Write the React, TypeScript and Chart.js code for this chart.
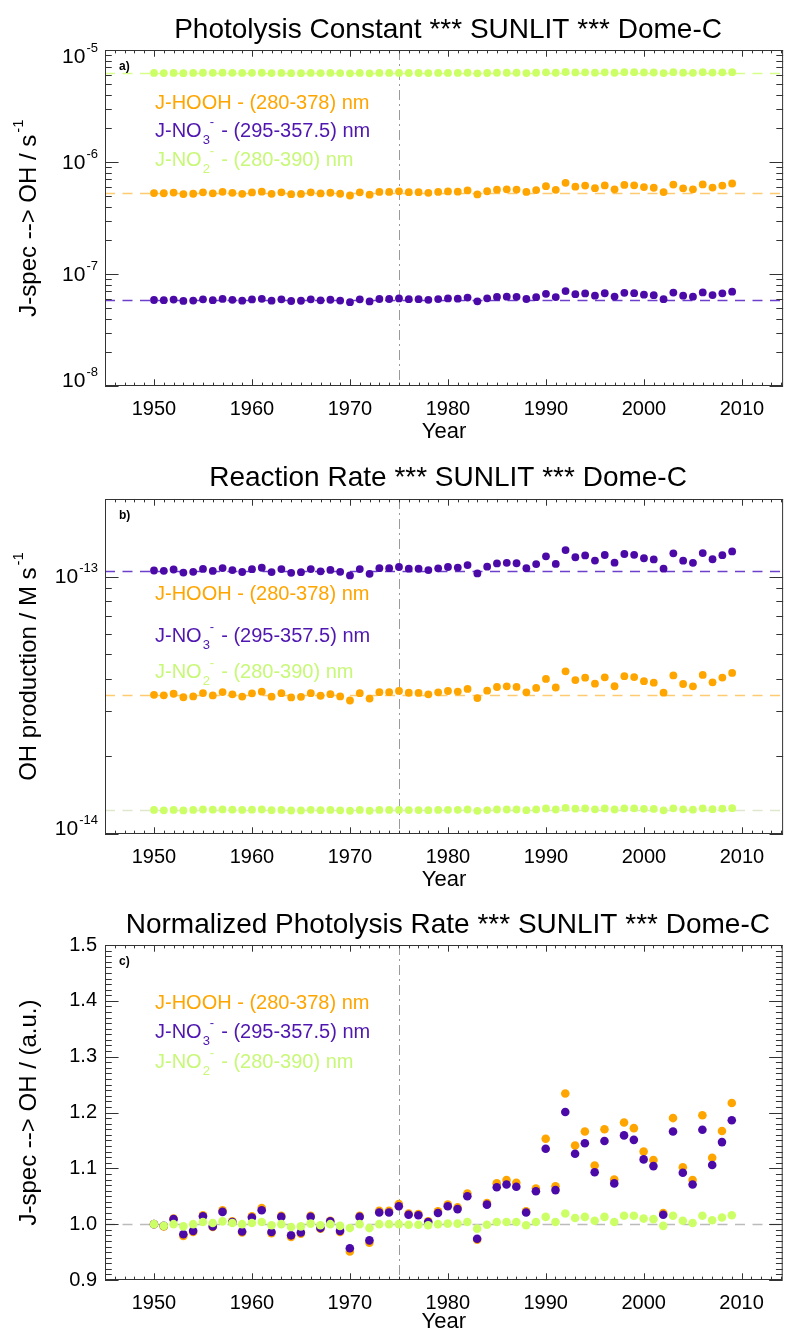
import React, { useEffect, useRef } from "react";
import { Chart, registerables } from "chart.js";

Chart.register(...registerables);

// ---------------- DATA ----------------
const YEARS = [
  1950, 1951, 1952, 1953, 1954, 1955, 1956, 1957, 1958, 1959,
  1960, 1961, 1962, 1963, 1964, 1965, 1966, 1967, 1968, 1969,
  1970, 1971, 1972, 1973, 1974, 1975, 1976, 1977, 1978, 1979,
  1980, 1981, 1982, 1983, 1984, 1985, 1986, 1987, 1988, 1989,
  1990, 1991, 1992, 1993, 1994, 1995, 1996, 1997, 1998, 1999,
  2000, 2001, 2002, 2003, 2004, 2005, 2006, 2007, 2008, 2009,
];

// normalized photolysis rate (J / J_1950)
const NORM_HOOH = [
  1.000, 0.996, 1.010, 0.979, 0.986, 1.016, 0.995, 1.025, 1.005, 0.985,
  1.014, 1.029, 0.984, 1.015, 0.977, 0.983, 1.015, 0.992, 1.006, 0.986,
  0.951, 1.015, 0.967, 1.024, 1.024, 1.036, 1.019, 1.018, 1.005, 1.023,
  1.035, 1.030, 1.055, 0.972, 1.038, 1.073, 1.079, 1.074, 1.023, 1.064,
  1.153, 1.068, 1.234, 1.141, 1.166, 1.105, 1.170, 1.080, 1.182, 1.172,
  1.130, 1.115, 1.020, 1.190, 1.102, 1.079, 1.195, 1.119, 1.167, 1.217,
];
const NORM_NO3 = [
  1.000, 0.997, 1.009, 0.982, 0.988, 1.014, 0.996, 1.022, 1.004, 0.987,
  1.012, 1.025, 0.986, 1.013, 0.980, 0.985, 1.013, 0.993, 1.005, 0.988,
  0.957, 1.013, 0.971, 1.021, 1.021, 1.032, 1.017, 1.016, 1.004, 1.020,
  1.032, 1.027, 1.050, 0.974, 1.035, 1.066, 1.071, 1.067, 1.021, 1.059,
  1.135, 1.061, 1.201, 1.126, 1.145, 1.093, 1.149, 1.073, 1.159, 1.151,
  1.116, 1.104, 1.017, 1.166, 1.092, 1.071, 1.169, 1.106, 1.147, 1.186,
];
const NORM_NO2 = [
  1.000, 0.997, 1.000, 0.996, 1.000, 1.004, 1.002, 1.005, 1.002, 1.000,
  1.002, 1.004, 0.998, 1.000, 0.995, 0.996, 1.001, 0.998, 1.000, 0.997,
  0.993, 1.000, 0.993, 1.000, 1.000, 1.000, 0.999, 0.999, 0.998, 1.000,
  1.001, 1.001, 1.004, 0.992, 0.999, 1.004, 1.004, 1.004, 0.998, 1.004,
  1.013, 1.004, 1.019, 1.011, 1.013, 1.006, 1.013, 1.004, 1.015, 1.015,
  1.010, 1.009, 0.997, 1.015, 1.006, 1.002, 1.015, 1.007, 1.012, 1.016,
];

// 1950 reference levels (dashed lines)
const PHOTOLYSIS_BASE_HOOH = 5.28e-7;
const PHOTOLYSIS_BASE_NO3 = 5.86e-8;
const PHOTOLYSIS_BASE_NO2 = 6.24e-6;
const RATE_BASE_HOOH = 3.47e-14;
const RATE_BASE_NO3 = 1.055e-13;
const RATE_BASE_NO2 = 1.24e-14;
const NORM_BASE = 1.0;

const REFERENCE_YEAR = 1975;

const X_TICKS = [1950, 1960, 1970, 1980, 1990, 2000, 2010];
const X_TICK_LABELS = ["1950", "1960", "1970", "1980", "1990", "2000", "2010"];
const A_Y_TICKS = [1e-8, 1e-7, 1e-6, 1e-5];
const A_Y_EXPONENTS = ["-8", "-7", "-6", "-5"];
const B_Y_TICKS = [1e-14, 1e-13];
const B_Y_EXPONENTS = ["-14", "-13"];
const C_Y_TICKS = [0.9, 1.0, 1.1, 1.2, 1.3, 1.4, 1.5];
const C_Y_LABELS = ["0.9", "1.0", "1.1", "1.2", "1.3", "1.4", "1.5"];

const TITLES = [
  "Photolysis Constant *** SUNLIT *** Dome-C",
  "Reaction Rate *** SUNLIT *** Dome-C",
  "Normalized Photolysis Rate *** SUNLIT *** Dome-C",
];

// ---------------- STYLE ----------------
const FONT = '"Liberation Sans", Arial, Helvetica, sans-serif';
const ORANGE = "#ffa500";
const PURPLE = "#4b0aa8";
const GREEN = "#ccff66";
const PURPLE_TEXT = "#4f16b0";
const GREEN_TEXT = "#c8f878";
const AXIS = "#333333";

type Baseline = { y: number; color: string };
type Series = { values: number[]; base: number; color: string };
type Spec = {
  key: string;
  top: number;
  height: number;
  padTop: number;
  padBottom: number;
  title: string;
  titleY: number;
  yTitle: string;
  yTitleSup: string;
  log: boolean;
  yMin: number;
  yMax: number;
  yTicks: number[];
  yLabels: string[];
  series: Series[];
  baselines: Baseline[];
  legendY: number[];
  letter: string;
  radius: number;
  yearOffset: number;
};

const X_MIN = 1945;
const X_MAX = 2014.2;

function drawLegend(ctx: CanvasRenderingContext2D, x: number, ys: number[]) {
  const big = `20px ${FONT}`;
  const small = `13px ${FONT}`;
  ctx.textAlign = "left";
  ctx.textBaseline = "middle";
  ctx.fillStyle = ORANGE;
  ctx.font = big;
  ctx.fillText("J-HOOH - (280-378) nm", x, ys[0]);
  const chem = (y: number, color: string, sub: string, rest: string) => {
    ctx.fillStyle = color;
    ctx.font = big;
    ctx.fillText("J-NO", x, y);
    const w = ctx.measureText("J-NO").width;
    ctx.font = small;
    ctx.fillText(sub, x + w + 1, y + 9);
    ctx.fillText("-", x + w + 8, y - 9);
    ctx.font = big;
    ctx.fillText(rest, x + w + 14, y);
  };
  chem(ys[1], PURPLE_TEXT, "3", " - (295-357.5) nm");
  chem(ys[2], GREEN_TEXT, "2", " - (280-390) nm");
}

function makePlugin(spec: Spec) {
  return {
    id: "idl_" + spec.key,
    beforeDatasetsDraw(chart: any) {
      const ctx: CanvasRenderingContext2D = chart.ctx;
      const { left, right, top, bottom } = chart.chartArea;
      const xs = chart.scales.x;
      const ys = chart.scales.y;
      ctx.save();
      ctx.lineWidth = 1.5;
      ctx.setLineDash([10, 7.5]);
      for (const b of spec.baselines) {
        const py = Math.round(ys.getPixelForValue(b.y)) + 0.5;
        ctx.strokeStyle = b.color;
        ctx.beginPath();
        ctx.moveTo(left, py);
        ctx.lineTo(right, py);
        ctx.stroke();
      }
      const px = Math.round(xs.getPixelForValue(REFERENCE_YEAR)) + 0.5;
      ctx.lineWidth = 1;
      ctx.strokeStyle = "#9a9a9a";
      ctx.setLineDash([10, 4, 2, 4]);
      ctx.beginPath();
      ctx.moveTo(px, top);
      ctx.lineTo(px, bottom);
      ctx.stroke();
      ctx.restore();
    },
    afterDraw(chart: any) {
      const ctx: CanvasRenderingContext2D = chart.ctx;
      const { left, right, top, bottom } = chart.chartArea;
      const xs = chart.scales.x;
      const ys = chart.scales.y;
      const W = right - left;
      const H = bottom - top;
      ctx.save();
      ctx.setLineDash([]);
      ctx.strokeStyle = AXIS;
      ctx.lineWidth = 1;
      ctx.strokeRect(left + 0.5, top + 0.5, W - 1, H - 1);
      const xMajorLen = 0.02 * H;
      const xMinorLen = 0.01 * H;
      ctx.beginPath();
      for (let yr = Math.ceil(X_MIN); yr <= X_MAX; yr++) {
        const len = X_TICKS.includes(yr) ? xMajorLen : xMinorLen;
        const px = Math.round(xs.getPixelForValue(yr)) + 0.5;
        ctx.moveTo(px, bottom);
        ctx.lineTo(px, bottom - len);
        ctx.moveTo(px, top);
        ctx.lineTo(px, top + len);
      }
      ctx.stroke();
      const yMajorLen = 0.02 * W;
      const yMinorLen = 0.01 * W;
      const yTickList: { v: number; major: boolean }[] = [];
      if (spec.log) {
        const e0 = Math.floor(Math.log10(spec.yMin));
        const e1 = Math.ceil(Math.log10(spec.yMax));
        for (let e = e0; e <= e1; e++) {
          for (let m = 1; m <= 9; m++) {
            const v = m * Math.pow(10, e);
            if (v >= spec.yMin * 0.999 && v <= spec.yMax * 1.001) yTickList.push({ v, major: m === 1 });
          }
        }
      } else {
        for (let k = Math.round(spec.yMin * 100); k <= Math.round(spec.yMax * 100); k++) {
          yTickList.push({ v: k / 100, major: k % 10 === 0 });
        }
      }
      ctx.beginPath();
      for (const t of yTickList) {
        const py = Math.round(ys.getPixelForValue(t.v)) + 0.5;
        const len = t.major ? yMajorLen : yMinorLen;
        ctx.moveTo(left, py);
        ctx.lineTo(left + len, py);
        ctx.moveTo(right, py);
        ctx.lineTo(right - len, py);
      }
      ctx.stroke();

      ctx.fillStyle = "#000";
      ctx.font = `20px ${FONT}`;
      ctx.textAlign = "center";
      ctx.textBaseline = "middle";
      X_TICKS.forEach((v, i) => {
        ctx.fillText(X_TICK_LABELS[i], xs.getPixelForValue(v), bottom + 23);
      });
      ctx.font = `22px ${FONT}`;
      ctx.fillText("Year", (left + right) / 2, bottom + spec.yearOffset);

      if (spec.log) {
        spec.yTicks.forEach((v, i) => {
          let py = ys.getPixelForValue(v);
          if (py < top + 6) py = top + 6;
          if (py > bottom - 6) py = bottom - 6;
          ctx.font = `13px ${FONT}`;
          ctx.textAlign = "right";
          const ew = ctx.measureText(spec.yLabels[i]).width;
          ctx.fillText(spec.yLabels[i], left - 7, py - 8);
          ctx.font = `21px ${FONT}`;
          ctx.fillText("10", left - 8 - ew, py + 1);
        });
      } else {
        ctx.font = `20px ${FONT}`;
        ctx.textAlign = "right";
        spec.yTicks.forEach((v, i) => {
          ctx.fillText(spec.yLabels[i], left - 8, ys.getPixelForValue(v));
        });
      }

      ctx.save();
      ctx.translate(29, (top + bottom) / 2);
      ctx.rotate(-Math.PI / 2);
      ctx.textAlign = "left";
      ctx.textBaseline = "middle";
      ctx.font = `24px ${FONT}`;
      const w1 = ctx.measureText(spec.yTitle).width;
      ctx.font = `15px ${FONT}`;
      const w2 = spec.yTitleSup ? ctx.measureText(spec.yTitleSup).width + 2 : 0;
      const start = -(w1 + w2) / 2;
      ctx.font = `24px ${FONT}`;
      ctx.fillText(spec.yTitle, start, 0);
      if (spec.yTitleSup) {
        ctx.font = `15px ${FONT}`;
        ctx.fillText(spec.yTitleSup, start + w1 + 2, -10);
      }
      ctx.restore();

      ctx.font = `28px ${FONT}`;
      ctx.textAlign = "center";
      ctx.textBaseline = "middle";
      ctx.fillStyle = "#000";
      ctx.fillText(spec.title, (left + right) / 2 + 4, spec.titleY);

      ctx.font = `bold 12px ${FONT}`;
      ctx.textAlign = "left";
      ctx.fillText(spec.letter, left + 14, top + 17);

      drawLegend(ctx, 155, spec.legendY);
      ctx.restore();
    },
  };
}

const SPECS: Spec[] = [
  {
    key: "a",
    top: 0,
    height: 448,
    padTop: 50,
    padBottom: 62,
    title: TITLES[0],
    titleY: 30,
    yTitle: "J-spec --> OH / s",
    yTitleSup: "-1",
    log: true,
    yMin: 1e-8,
    yMax: 1e-5,
    yTicks: A_Y_TICKS,
    yLabels: A_Y_EXPONENTS,
    series: [
      { values: NORM_NO2, base: PHOTOLYSIS_BASE_NO2, color: GREEN },
      { values: NORM_NO3, base: PHOTOLYSIS_BASE_NO3, color: PURPLE },
      { values: NORM_HOOH, base: PHOTOLYSIS_BASE_HOOH, color: ORANGE },
    ],
    baselines: [
      { y: PHOTOLYSIS_BASE_NO2, color: "#d6ff8a" },
      { y: PHOTOLYSIS_BASE_HOOH, color: "#ffca70" },
      { y: PHOTOLYSIS_BASE_NO3, color: "#6c40cc" },
    ],
    legendY: [103, 131, 160],
    letter: "a)",
    radius: 3.9,
    yearOffset: 46,
  },
  {
    key: "b",
    top: 448,
    height: 448,
    padTop: 51,
    padBottom: 62,
    title: TITLES[1],
    titleY: 30,
    yTitle: "OH production / M s",
    yTitleSup: "-1",
    log: true,
    yMin: 1e-14,
    yMax: 2e-13,
    yTicks: B_Y_TICKS,
    yLabels: B_Y_EXPONENTS,
    series: [
      { values: NORM_NO2, base: RATE_BASE_NO2, color: GREEN },
      { values: NORM_NO3, base: RATE_BASE_NO3, color: PURPLE },
      { values: NORM_HOOH, base: RATE_BASE_HOOH, color: ORANGE },
    ],
    baselines: [
      { y: RATE_BASE_NO2, color: "#dde8cc" },
      { y: RATE_BASE_HOOH, color: "#ffca70" },
      { y: RATE_BASE_NO3, color: "#6c40cc" },
    ],
    legendY: [594 - 448, 636 - 448, 672 - 448],
    letter: "b)",
    radius: 3.9,
    yearOffset: 46,
  },
  {
    key: "c",
    top: 896,
    height: 438,
    padTop: 49,
    padBottom: 54,
    title: TITLES[2],
    titleY: 29,
    yTitle: "J-spec --> OH / (a.u.)",
    yTitleSup: "",
    log: false,
    yMin: 0.9,
    yMax: 1.5,
    yTicks: C_Y_TICKS,
    yLabels: C_Y_LABELS,
    series: [
      { values: NORM_NO2, base: 1, color: GREEN },
      { values: NORM_NO3, base: 1, color: PURPLE },
      { values: NORM_HOOH, base: 1, color: ORANGE },
    ],
    baselines: [{ y: NORM_BASE, color: "#bbbbbb" }],
    legendY: [1003 - 896, 1032 - 896, 1062 - 896],
    letter: "c)",
    radius: 4.3,
    yearOffset: 42,
  },
];

function Panel({ spec }: { spec: Spec }) {
  const ref = useRef<HTMLCanvasElement | null>(null);
  useEffect(() => {
    if (!ref.current) return;
    const datasets = spec.series.map((s) => ({
      data: YEARS.map((yr, i) => ({ x: yr, y: s.base * s.values[i] })),
      backgroundColor: s.color,
      borderColor: s.color,
      pointRadius: spec.radius,
      pointBorderWidth: 0,
      pointHoverRadius: spec.radius,
      showLine: false,
    }));
    const chart = new Chart(ref.current, {
      type: "scatter",
      data: { datasets },
      options: {
        animation: false,
        responsive: false,
        events: [],
        layout: { padding: { left: 105, right: 2, top: spec.padTop, bottom: spec.padBottom } },
        plugins: { legend: { display: false }, tooltip: { enabled: false }, title: { display: false } },
        scales: {
          x: { type: "linear", min: X_MIN, max: X_MAX, display: false },
          y: { type: spec.log ? "logarithmic" : "linear", min: spec.yMin, max: spec.yMax, display: false },
        },
      } as any,
      plugins: [makePlugin(spec) as any],
    });
    return () => chart.destroy();
  }, [spec]);
  return (
    <canvas
      ref={ref}
      width={787}
      height={spec.height}
      style={{ position: "absolute", left: 0, top: spec.top, width: 787, height: spec.height, display: "block" }}
    />
  );
}

export default function App() {
  return (
    <div style={{ position: "absolute", left: 0, top: 0, width: 787, height: 1334, background: "#fff" }}>
      {SPECS.map((s) => (
        <Panel key={s.key} spec={s} />
      ))}
    </div>
  );
}
